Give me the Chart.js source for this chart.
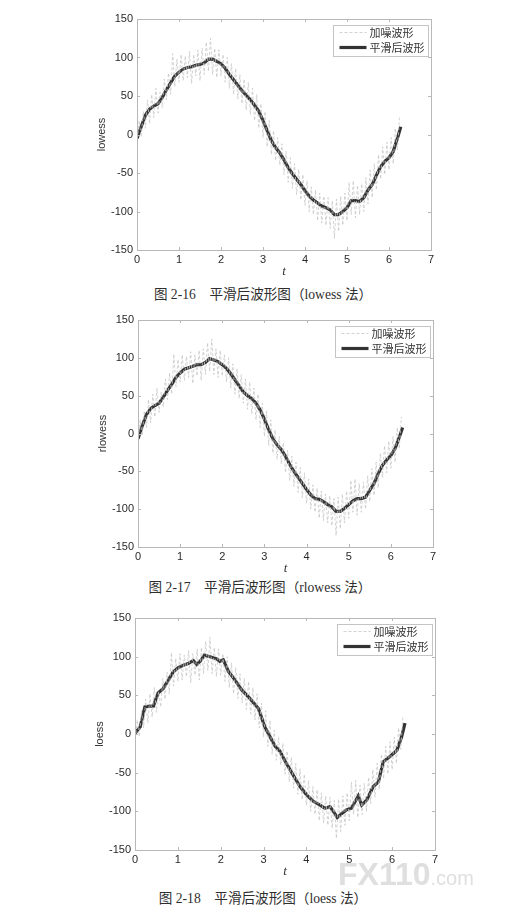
<!DOCTYPE html>
<html>
<head>
<meta charset="utf-8">
<script src="https://cdn.jsdelivr.net/npm/chart.js@4.4.1/dist/chart.umd.min.js"></script>
<style>
  body { margin: 0; background: #fff; width: 510px; height: 914px; position: relative; overflow: hidden; }
  .plot { position: absolute; left: 0; width: 510px; }
  .cap { position: absolute; width: 300px; text-align: center; line-height: 18px;
         font-family: "Liberation Serif", "Noto Sans CJK SC", serif; font-size: 13.6px; color: #2e2e2e; white-space: nowrap; }
  .mark { position: absolute; left: 338px; top: 858px; line-height: 32px; color: rgba(220,220,220,0.9);
          font-family: "Liberation Sans", sans-serif; white-space: nowrap; }
</style>
</head>
<body>
<div class="plot" style="top:0;height:280px"><canvas id="c1"></canvas></div>
<div class="cap" style="left:113px;top:286px">图 2-16　平滑后波形图（lowess 法）</div>
<div class="plot" style="top:300px;height:277px"><canvas id="c2"></canvas></div>
<div class="cap" style="left:110px;top:579px">图 2-17　平滑后波形图（rlowess 法）</div>
<div class="plot" style="top:600px;height:280px"><canvas id="c3"></canvas></div>
<div class="cap" style="left:113px;top:890px">图 2-18　平滑后波形图（loess 法）</div>
<div class="mark"><b style="font-size:32px">FX110</b><span style="font-size:20px">.com</span></div>

<script>
// noisy signal (same in all three figures)
var noiseT = [0,0.05,0.1,0.15,0.2,0.25,0.3,0.35,0.4,0.45,
  0.5,0.55,0.6,0.65,0.7,0.75,0.8,0.85,0.9,0.95,
  1.0,1.05,1.1,1.15,1.2,1.25,1.3,1.35,1.4,1.45,
  1.5,1.55,1.6,1.65,1.7,1.75,1.8,1.85,1.9,1.95,
  2.0,2.05,2.1,2.15,2.2,2.25,2.3,2.35,2.4,2.45,
  2.5,2.55,2.6,2.65,2.7,2.75,2.8,2.85,2.9,2.95,
  3.0,3.05,3.1,3.15,3.2,3.25,3.3,3.35,3.4,3.45,
  3.5,3.55,3.6,3.65,3.7,3.75,3.8,3.85,3.9,3.95,
  4.0,4.05,4.1,4.15,4.2,4.25,4.3,4.35,4.4,4.45,
  4.5,4.55,4.6,4.65,4.7,4.75,4.8,4.85,4.9,4.95,
  5.0,5.05,5.1,5.15,5.2,5.25,5.3,5.35,5.4,5.45,
  5.5,5.55,5.6,5.65,5.7,5.75,5.8,5.85,5.9,5.95,
  6.0,6.05,6.1,6.15,6.2,6.25];
var noiseY = [-12,18,-3,30,8,45,14,52,22,60,
  28,55,35,72,45,80,52,105,62,98,
  68,104,70,102,74,108,66,104,76,110,
  70,112,78,120,82,125,78,112,74,110,
  76,104,68,100,60,92,52,86,46,78,
  40,72,32,68,26,60,18,52,8,40,
  -4,30,-16,18,-26,5,-34,-4,-40,-12,
  -52,-22,-62,-30,-70,-38,-78,-45,-85,-52,
  -92,-60,-100,-68,-104,-72,-112,-76,-115,-80,
  -118,-82,-122,-86,-135,-84,-126,-80,-118,-76,
  -112,-62,-104,-60,-108,-66,-104,-64,-100,-56,
  -90,-46,-82,-38,-72,-26,-58,-16,-52,-10,
  -46,-4,-38,8,-20,22];

// smoothed curves
var smoothT = [0,0.1,0.2,0.3,0.4,0.5,0.6,0.7,0.8,0.9,
  1.0,1.1,1.2,1.3,1.4,1.5,1.6,1.7,1.8,1.9,
  2.0,2.1,2.2,2.3,2.4,2.5,2.6,2.7,2.8,2.9,
  3.0,3.1,3.2,3.3,3.4,3.5,3.6,3.7,3.8,3.9,
  4.0,4.1,4.2,4.3,4.4,4.5,4.6,4.7,4.8,4.9,
  5.0,5.1,5.2,5.3,5.4,5.5,5.6,5.7,5.8,5.9,
  6.0,6.1,6.2,6.28];
var lowessY = [-5,10,25,33,37,40,48,58,67,76,
  81,85,87,88,90,91,93,98,98,95,
  92,86,78,71,64,57,51,45,38,30,
  18,5,-8,-17,-24,-33,-43,-51,-58,-65,
  -73,-80,-85,-89,-93,-95,-98,-104,-104,-100,
  -95,-86,-86,-87,-82,-72,-65,-53,-42,-35,
  -30,-22,-5,10];
var rlowessY = [-7,10,25,33,37,40,48,57,65,74,
  80,85,87,89,91,91,94,99,97,95,
  91,86,79,71,63,55,50,46,40,31,
  19,5,-7,-15,-21,-30,-41,-50,-58,-66,
  -74,-81,-86,-87,-90,-94,-97,-103,-103,-99,
  -94,-89,-86,-86,-84,-75,-66,-53,-42,-35,
  -29,-20,-5,8];
var loessT = [0,0.12,0.23,0.35,0.43,0.54,0.66,0.78,0.89,1.01,
  1.13,1.24,1.36,1.44,1.52,1.62,1.75,1.91,1.98,2.06,
  2.18,2.33,2.49,2.68,2.88,3.03,3.27,3.38,3.5,3.69,
  3.85,4.01,4.16,4.32,4.43,4.55,4.63,4.72,4.82,4.94,
  5.05,5.21,5.29,5.41,5.56,5.68,5.79,5.95,6.11,6.22,6.3];
var loessY = [1,9,35,36,36,53,59,70,80,86,
  89,91,95,90,94,102,100,97,94,96,
  81,70,57,46,33,9,-16,-22,-35,-53,
  -68,-79,-87,-92,-96,-94,-100,-108,-103,-98,
  -96,-80,-92,-85,-68,-62,-36,-29,-21,-4,14];

var xTicks = [0, 1, 2, 3, 4, 5, 6, 7];
var yTicks = [-150, -100, -50, 0, 50, 100, 150];

function pts(xs, ys) {
  return xs.map(function (x, i) { return { x: x, y: ys[i] }; });
}

// box, inward ticks and the legend, matlab style
var frame = {
  id: 'frame',
  afterDraw: function (chart) {
    var ctx = chart.ctx, a = chart.chartArea;
    var sx = chart.scales.x, sy = chart.scales.y;
    ctx.save();
    ctx.strokeStyle = '#b8b8b8';
    ctx.lineWidth = 1;
    ctx.strokeRect(Math.round(a.left) + 0.5, Math.round(a.top) + 0.5, Math.round(a.width), Math.round(a.height));
    ctx.beginPath();
    xTicks.forEach(function (v) {
      var px = Math.round(sx.getPixelForValue(v)) + 0.5;
      ctx.moveTo(px, a.bottom); ctx.lineTo(px, a.bottom - 3);
      ctx.moveTo(px, a.top); ctx.lineTo(px, a.top + 3);
    });
    yTicks.forEach(function (v) {
      var py = Math.round(sy.getPixelForValue(v)) + 0.5;
      ctx.moveTo(a.left, py); ctx.lineTo(a.left + 3, py);
      ctx.moveTo(a.right, py); ctx.lineTo(a.right - 3, py);
    });
    ctx.stroke();

    // legend
    var w = 95, h = 31;
    var bx = Math.round(a.right - 3 - w) + 0.5, by = Math.round(a.top + 6) + 0.5;
    ctx.fillStyle = '#fff';
    ctx.fillRect(bx, by, w, h);
    ctx.strokeStyle = '#c4c4c4';
    ctx.strokeRect(bx, by, w, h);
    ctx.font = '11px "Noto Sans CJK SC", sans-serif';
    ctx.textBaseline = 'middle';
    chart.data.datasets.forEach(function (ds, i) {
      var ly = by + 7 + i * 15;
      ctx.beginPath();
      ctx.strokeStyle = ds.borderColor;
      ctx.lineWidth = ds.borderWidth;
      ctx.setLineDash(ds.borderDash || []);
      ctx.moveTo(bx + 6, ly); ctx.lineTo(bx + 33, ly);
      ctx.stroke();
      ctx.setLineDash([]);
      ctx.fillStyle = '#333';
      ctx.fillText(ds.label, bx + 36, ly);
    });
    ctx.restore();
  }
};

function makeChart(id, yName, sT, sY, pad) {
  return new Chart(document.getElementById(id), {
    type: 'line',
    data: {
      datasets: [{
        label: '加噪波形',
        data: pts(noiseT, noiseY),
        borderColor: '#c6c6c6',
        borderWidth: 0.8,
        borderDash: [3, 2],
        pointRadius: 0
      }, {
        label: '平滑后波形',
        data: pts(sT, sY),
        borderColor: '#333333',
        borderWidth: 3.2,
        pointRadius: 0
      }]
    },
    options: {
      responsive: true,
      maintainAspectRatio: false,
      animation: false,
      layout: { padding: pad },
      plugins: { legend: { display: false }, tooltip: { enabled: false } },
      scales: {
        x: {
          type: 'linear', min: 0, max: 7,
          afterBuildTicks: function (s) { s.ticks = xTicks.map(function (v) { return { value: v }; }); },
          ticks: { padding: 3, color: '#2a2a2a', font: { family: 'Liberation Sans', size: 11 } },
          grid: { display: false, drawTicks: false },
          border: { display: false },
          title: { display: true, text: 't', color: '#333', padding: { top: 0, bottom: 1 },
                   font: { family: 'Liberation Serif', size: 13, style: 'italic' } },
          afterFit: function (s) { s.height = 30; }
        },
        y: {
          min: -150, max: 150,
          afterBuildTicks: function (s) { s.ticks = yTicks.map(function (v) { return { value: v }; }); },
          ticks: { padding: 4, color: '#2a2a2a', font: { family: 'Liberation Sans', size: 11 } },
          grid: { display: false, drawTicks: false },
          border: { display: false },
          title: { display: true, text: yName, color: '#333', padding: { top: 5, bottom: 0 },
                   font: { family: 'Liberation Sans', size: 11 } },
          afterFit: function (s) { s.width = 47; }
        }
      }
    },
    plugins: [frame]
  });
}

makeChart('c1', 'lowess', smoothT, lowessY, { left: 90, right: 79, top: 19, bottom: 0 });
makeChart('c2', 'rlowess', smoothT, rlowessY, { left: 91, right: 77, top: 20, bottom: 0 });
makeChart('c3', 'loess', loessT, loessY, { left: 88, right: 75, top: 18, bottom: 0 });
</script>
</body>
</html>
